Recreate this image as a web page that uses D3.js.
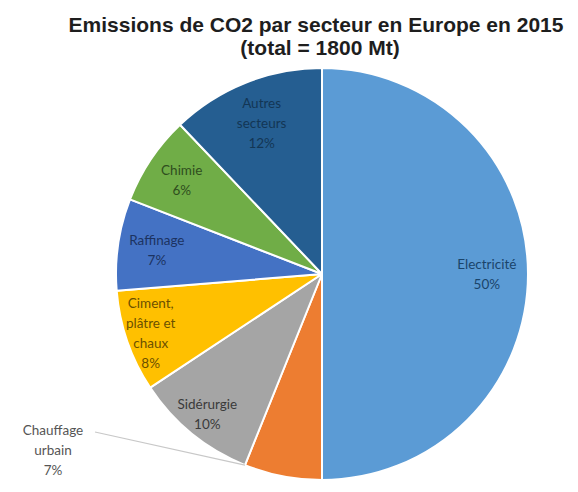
<!DOCTYPE html>
<html>
<head>
<meta charset="utf-8">
<script src="https://cdn.jsdelivr.net/npm/d3@7"></script>
<style>
  body { margin: 0; background: #fff; }
</style>
</head>
<body>
<div id="chart"></div>
<script>
// data read off the picture (slice sizes measured from the drawn angles,
// percent labels as printed)
var sectors = ["Electricité", "Chauffage urbain", "Sidérurgie", "Ciment, plâtre et chaux", "Raffinage", "Chimie", "Autres secteurs"];
var shares = [50, 6.1, 9.6, 8.0, 7.2, 7.0, 12.1];
var pctLabels = ["50%", "7%", "10%", "8%", "7%", "6%", "12%"];
var nameLines = [
  ["Electricité"],
  ["Chauffage", "urbain"],
  ["Sidérurgie"],
  ["Ciment,", "plâtre et", "chaux"],
  ["Raffinage"],
  ["Chimie"],
  ["Autres", "secteurs"]
];
var sliceColors = ["#5b9bd5", "#ed7d31", "#a5a5a5", "#ffc000", "#4472c4", "#70ad47", "#255e91"];
var textColors = ["#1a446b", "#555555", "#3a3a3a", "#6b5000", "#1c3361", "#2f4d1e", "#133655"];

var svgWidth = 578, svgHeight = 492;
var cx = 322, cy = 274, radius = 206;

var svg = d3.select("#chart").append("svg")
    .attr("width", svgWidth)
    .attr("height", svgHeight);

// title
var title = svg.append("text")
    .attr("text-anchor", "middle")
    .attr("font-family", "Liberation Sans, Arial, sans-serif")
    .attr("font-weight", "bold")
    .attr("font-size", 21)
    .attr("fill", "#1e1e1e");
title.append("tspan").attr("x", 316).attr("y", 32).text("Emissions de CO2 par secteur en Europe en 2015");
title.append("tspan").attr("x", 320).attr("y", 55).text("(total = 1800 Mt)");

var data = sectors.map(function(s, i) { return { name: s, value: shares[i], i: i }; });

var pie = d3.pie()
    .sort(null)
    .value(function(d) { return d.value; });

var arc = d3.arc()
    .innerRadius(0)
    .outerRadius(radius);

var arcs = pie(data);

var g = svg.append("g")
    .attr("transform", "translate(" + cx + "," + cy + ")");

g.selectAll("path")
    .data(arcs)
    .enter().append("path")
    .attr("d", arc)
    .attr("fill", function(d) { return sliceColors[d.data.i]; })
    .attr("stroke", "#fff")
    .attr("stroke-width", 2)
    .attr("stroke-linejoin", "round");

// label distance from centre, as fraction of radius along the mid angle
var labelRadius = [0.8, 0, 0.88, 0.88, 0.81, 0.82, 0.79];
var lineH = 20;

arcs.forEach(function(a, k) {
    var lines = nameLines[k].concat([pctLabels[k]]);
    var px, py;
    if (k === 1) {
        // outside label with leader line
        px = 53 - cx; py = 450 - cy;
        var ex = Math.sin(a.endAngle) * radius, ey = -Math.cos(a.endAngle) * radius;
        g.append("line")
            .attr("x1", 95 - cx).attr("y1", 432 - cy)
            .attr("x2", ex).attr("y2", ey)
            .attr("stroke", "#c8c8c8")
            .attr("stroke-width", 1.2);
    } else {
        var mid = (a.startAngle + a.endAngle) / 2;
        var r = radius * labelRadius[k];
        px = Math.sin(mid) * r;
        py = -Math.cos(mid) * r;
    }
    var t = g.append("text")
        .attr("text-anchor", "middle")
        .attr("font-family", "Lato, Open Sans, sans-serif")
        .attr("font-size", 13.5)
        .attr("fill", textColors[k]);
    lines.forEach(function(l, j) {
        t.append("tspan")
            .attr("x", px)
            .attr("y", py + (j - (lines.length - 1) / 2) * lineH + 5)
            .text(l);
    });
});
</script>
</body>
</html>
